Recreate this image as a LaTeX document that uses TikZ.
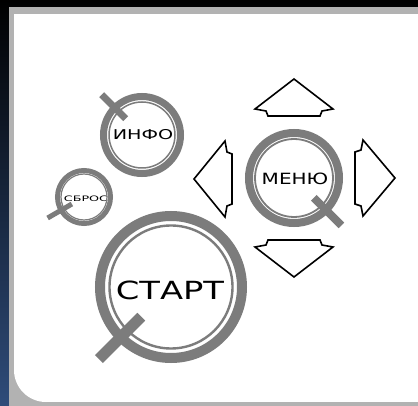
\documentclass[tikz,border=0pt]{standalone}
\usepackage{fontspec}
\usepackage{tikz}
\usetikzlibrary{arrows}
\newfontfamily\btnfont{DejaVu Sans}
\newcommand{\btntext}[2][1.3]{\scalebox{#1}[1]{#2}}
\definecolor{ringgray}{HTML}{7C7C7C}
\definecolor{panelgray}{HTML}{B2B2B2}
\definecolor{navy}{HTML}{2F4C7A}

\begin{document}
\begin{tikzpicture}[x=1pt,y=-1pt,
  ring/.style={circle,draw=ringgray,inner sep=0pt},
  caption/.style={inner sep=0pt,text=black},
  tab/.style={draw=ringgray,line cap=butt},
  key/.style={draw=black,line width=1.6pt,line join=miter,fill=white}]
  \tikzstyle{thin ring}=[draw=ringgray]

  \useasboundingbox (0,0) rectangle (418,406);
  \shade[top color=black,middle color=black!80!navy,bottom color=navy] (0,0) rectangle (418,406);
  \fill[panelgray] (9,7) rectangle (418,406);
  \fill[white] (14,14) rectangle (418,370);
  \fill[white] (46,14) rectangle (418,402);
  \fill[white] (46,370) circle[radius=32pt];

  % buttons
  \node[ring,line width=7pt,minimum size=77pt] (info) at (142,135) {};
  \node[ring,line width=5pt,minimum size=53pt] (reset) at (84,197) {};
  \node[ring,line width=8pt,minimum size=90pt] (menu) at (294,178) {};
  \node[ring,line width=10pt,minimum size=142pt] (start) at (171,287) {};

  \node[caption,font=\btnfont\fontsize{13.5}{13.5}\selectfont] (info text) at (143,135) {\btntext[1.42]{ИНФО}};
  \node[caption,font=\btnfont\fontsize{7.5}{7.5}\selectfont] (reset text) at (86,198.5) {\btntext[1.7]{СБРОС}};
  \node[caption,font=\btnfont\fontsize{15.5}{15.5}\selectfont] (menu text) at (295,178.5) {\btntext[1.29]{МЕНЮ}};
  \node[caption,font=\btnfont\fontsize{25}{25}\selectfont] (start text) at (170,290) {\btntext[1.35]{СТАРТ}};

  \draw[thin ring,line width=1.5pt] (info) circle[radius=33pt];
  \draw[thin ring,line width=1.2pt] (reset) circle[radius=23pt];
  \draw[thin ring,line width=1.8pt] (menu) circle[radius=39pt];
  \draw[thin ring,line width=2.4pt] (start) circle[radius=61.5pt];

  \draw[tab,line width=7pt] ([shift={(225:23)}]info.center) -- ([shift={(225:57)}]info.center);
  \draw[tab,line width=5pt] ([shift={(150:14)}]reset.center) -- ([shift={(150:42)}]reset.center);
  \draw[tab,line width=8pt] ([shift={(45:28)}]menu.center) -- ([shift={(45:67)}]menu.center);
  \draw[tab,line width=11pt] ([shift={(135:42)}]start.center) -- ([shift={(135:102)}]start.center);

  % arrow keys
  \draw[key,shift={(294,109)}] (0,-30) -- (39,0) -- (28,2) -- (26,7) -- (-26,7) -- (-28,2) -- (-39,0) -- cycle;
  \draw[key,shift={(294,247)},rotate=180] (0,-30) -- (39,0) -- (28,2) -- (26,7) -- (-26,7) -- (-28,2) -- (-39,0) -- cycle;
  \draw[key,shift={(225,179)},rotate=90] (0,-31) -- (38,0) -- (27,2) -- (25,7) -- (-25,7) -- (-27,2) -- (-38,0) -- cycle;
  \draw[key,shift={(363,178)},rotate=-90] (0,-32) -- (38,0) -- (28,2) -- (26,8) -- (-26,8) -- (-28,2) -- (-38,0) -- cycle;
\end{tikzpicture}
\end{document}
